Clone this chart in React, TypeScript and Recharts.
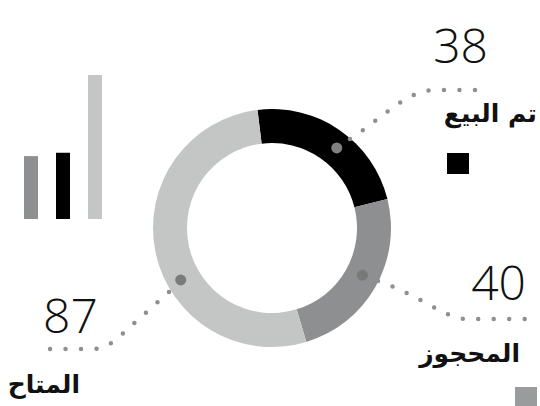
import { PieChart, Pie, Cell, BarChart, Bar, XAxis, YAxis } from "recharts";

const STATUS_LABELS = ["تم البيع", "المحجوز", "المتاح"];
const STATUS_VALUES = [38, 40, 87];
const PIE_COLORS = ["#000000", "#8e8f90", "#c4c5c5"];

const BAR_KEYS = ["a", "b", "c"];
const BAR_VALUES = [38, 40, 87];
const BAR_COLORS = ["#8e8f90", "#000000", "#c4c5c5"];

const pieData = STATUS_LABELS.map((name, i) => ({ name, value: STATUS_VALUES[i] }));
const barData = BAR_KEYS.map((k, i) => ({ k, v: BAR_VALUES[i] }));

const RADIAN = Math.PI / 180;
const DOT = "#8e8f90";

// label placement, relative to the pie centre
const LAYOUT = [
  {
    shift: -4.5,
    r: 103,
    marker: "#808080",
    path: (x: number, y: number) =>
      `M${x + 78},${y - 89} C${x + 108},${y - 108} ${x + 133},${y - 136} ${x + 160},${y - 138} L${x + 212},${y - 138}`,
    num: { dx: 216, dy: -165, anchor: "end" },
    text: { dx: 265, dy: -106 },
    square: { dx: 175, dy: -75, fill: "#000000" },
  },
  {
    shift: 2,
    r: 102,
    marker: "#777878",
    path: (x: number, y: number) =>
      `M${x + 106},${y + 53} C${x + 148},${y + 67} ${x + 173},${y + 91} ${x + 195},${y + 91} L${x + 263},${y + 91}`,
    num: { dx: 254, dy: 72, anchor: "end" },
    text: { dx: 248, dy: 134 },
    square: { dx: 243, dy: 159, fill: "#9a9b9c" },
  },
  {
    shift: 17.7,
    r: 105,
    marker: "#7a7b7b",
    path: (x: number, y: number) =>
      `M${x - 103},${y + 64} L${x - 152},${y + 108} Q${x - 164},${y + 120} ${x - 178},${y + 121} L${x - 228},${y + 121}`,
    num: { dx: -229, dy: 105, anchor: "start" },
    text: { dx: -192, dy: 165 },
    square: null,
  },
];

function renderLabel(props: any) {
  const { cx, cy, midAngle, index, value, name } = props;
  const L = LAYOUT[index];
  const a = (midAngle + L.shift) * RADIAN;
  const mx = cx + L.r * Math.cos(-a);
  const my = cy + L.r * Math.sin(-a);
  return (
    <g key={`lbl-${index}`}>
      <path
        d={L.path(cx, cy)}
        fill="none"
        stroke={DOT}
        strokeWidth={4.5}
        strokeLinecap="round"
        strokeDasharray="0 15.5"
      />
      <circle cx={mx} cy={my} r={5.5} fill={L.marker} />
      <text
        x={cx + L.num.dx}
        y={cy + L.num.dy}
        textAnchor={L.num.anchor}
        fontFamily="'Open Sans', sans-serif"
        fontWeight={300}
        fontSize={48}
        fill="#111"
      >
        {value}
      </text>
      <text
        x={cx + L.text.dx}
        y={cy + L.text.dy}
        textAnchor="end"
        fontFamily="'DejaVu Sans', sans-serif"
        fontWeight="bold"
        fontSize={25}
        fill="#111"
      >
        {name}
      </text>
      {L.square && (
        <rect x={cx + L.square.dx} y={cy + L.square.dy} width={22} height={21} fill={L.square.fill} />
      )}
    </g>
  );
}

export default function App() {
  return (
    <div style={{ position: "absolute", left: 0, top: 0, width: 540, height: 406, background: "#fff", overflow: "hidden" }}>
      <div style={{ position: "absolute", left: 0, top: 0 }}>
        <PieChart width={540} height={406} margin={{ top: 0, right: 0, bottom: 0, left: 0 }}>
          <Pie
            data={pieData}
            dataKey="value"
            nameKey="name"
            cx={272}
            cy={228}
            innerRadius={85}
            outerRadius={119}
            startAngle={97}
            endAngle={-263}
            stroke="none"
            label={renderLabel}
            labelLine={false}
            isAnimationActive={false}
          >
            {pieData.map((d, i) => (
              <Cell key={d.name} fill={PIE_COLORS[i]} />
            ))}
          </Pie>
        </PieChart>
      </div>
      <div style={{ position: "absolute", left: 0, top: 0 }}>
        <BarChart width={120} height={230} data={barData} margin={{ top: 75, right: 9, bottom: 11, left: 15 }}>
          <XAxis dataKey="k" hide />
          <YAxis domain={[0, 87]} hide />
          <Bar dataKey="v" barSize={14} isAnimationActive={false}>
            {barData.map((d, i) => (
              <Cell key={d.k} fill={BAR_COLORS[i]} />
            ))}
          </Bar>
        </BarChart>
      </div>
    </div>
  );
}
